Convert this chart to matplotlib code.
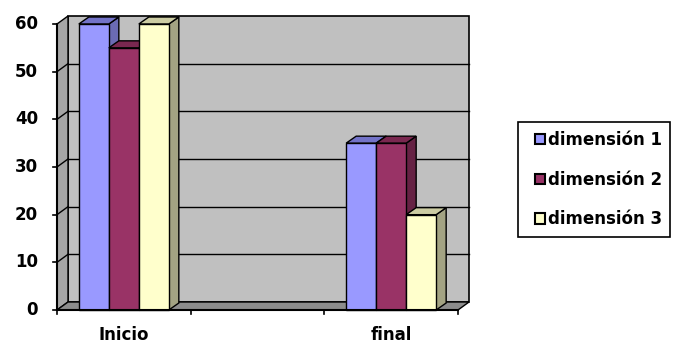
import matplotlib
matplotlib.use("Agg")
import matplotlib.pyplot as plt
from matplotlib.patches import Polygon, Rectangle
import numpy as np

categories = ["Inicio", "", "final"]
series = ["dimensión 1", "dimensión 2", "dimensión 3"]
values = [
    [60, 0, 35],
    [55, 0, 35],
    [60, 0, 20],
]
yticks = [0, 10, 20, 30, 40, 50, 60]

front_cols = ["#9999FF", "#993366", "#FFFFCC"]
top_cols = ["#7373C8", "#7A2850", "#CCCCA3"]
side_cols = ["#6B6BB3", "#662244", "#A3A383"]

plt.rcParams["font.family"] = ["DejaVu Sans"]

fig = plt.figure(figsize=(6.78, 3.47), dpi=100)
W, H = 678, 347
ax = fig.add_axes([57 / W, (H - 310) / H, 401 / W, 286 / H])
ax.set_xlim(0, 3)
ax.set_ylim(0, 60)
ax.axis("off")

# depth offset in data units
dx = 11 / (401 / 3)
dy = 8 / (286 / 60)
ymax = 60

# walls
back = Rectangle((dx, dy), 3, ymax, facecolor="#C0C0C0", edgecolor="black", lw=1.2, clip_on=False, zorder=1)
ax.add_patch(back)
side = Polygon([(0, 0), (dx, dy), (dx, ymax + dy), (0, ymax)], closed=True,
               facecolor="#A6A6A6", edgecolor="black", lw=1.0, clip_on=False, zorder=1)
ax.add_patch(side)
floor = Polygon([(0, 0), (3, 0), (3 + dx, dy), (dx, dy)], closed=True,
                facecolor="#8C8C8C", edgecolor="black", lw=1.0, clip_on=False, zorder=1)
ax.add_patch(floor)

for v in yticks[1:-1]:
    ax.plot([dx, 3 + dx], [v + dy, v + dy], color="black", lw=1.0, clip_on=False, zorder=2)
    ax.plot([0, dx], [v, v + dy], color="black", lw=1.0, clip_on=False, zorder=2)

# bars
bw = 30 / (401 / 3)
bdx = 10 / (401 / 3)
bdy = 7 / (286 / 60)
for i in range(len(categories)):
    for s in range(len(series)):
        v = values[s][i]
        if v == 0:
            continue
        x0 = i + 0.5 - 1.5 * bw + s * bw
        x1 = x0 + bw
        z = 3 + s
        ax.add_patch(Polygon([(x1, 0), (x1 + bdx, bdy), (x1 + bdx, v + bdy), (x1, v)], closed=True,
                             facecolor=side_cols[s], edgecolor="black", lw=1.0, clip_on=False, zorder=z))
        ax.add_patch(Polygon([(x0, v), (x1, v), (x1 + bdx, v + bdy), (x0 + bdx, v + bdy)], closed=True,
                             facecolor=top_cols[s], edgecolor="black", lw=1.0, clip_on=False, zorder=z))
        ax.add_patch(Rectangle((x0, 0), bw, v, facecolor=front_cols[s], edgecolor="black",
                               lw=1.0, clip_on=False, zorder=z))

# axes lines and ticks
ax.plot([0, 0], [0, ymax], color="black", lw=1.5, clip_on=False, zorder=10)
ax.plot([0, 3], [0, 0], color="black", lw=1.5, clip_on=False, zorder=10)
tl = 4 / (401 / 3)
for v in yticks:
    ax.plot([-tl, 0], [v, v], color="black", lw=1.2, clip_on=False, zorder=10)
    ax.text(-19 / (401 / 3), v, str(v), ha="right", va="center", fontsize=12, fontweight="bold", clip_on=False)
for i in range(len(categories) + 1):
    ax.plot([i, i], [0, -4 / (286 / 60)], color="black", lw=1.2, clip_on=False, zorder=10)
for i, c in enumerate(categories):
    ax.text(i + 0.5, -5.3, c, ha="center", va="center", fontsize=12, fontweight="bold", clip_on=False)

# legend: frame drawn separately so the box matches the original
fig.patches.append(Rectangle((518 / W, 1 - 237 / H), 152 / W, 115 / H, transform=fig.transFigure,
                             facecolor="white", edgecolor="black", lw=1.2, zorder=0))
handles = [Rectangle((0, 0), 1, 1, facecolor=front_cols[s], edgecolor="black", lw=1.5) for s in range(3)]
leg = fig.legend(handles, series, loc="upper left", bbox_to_anchor=(535 / W, 1 - 131 / H),
                 frameon=False, prop={"weight": "bold", "size": 12},
                 handlelength=0.6, handleheight=0.6, handletextpad=0.15,
                 labelspacing=1.3, borderpad=0, borderaxespad=0)

fig.savefig("out.png", dpi=100)
